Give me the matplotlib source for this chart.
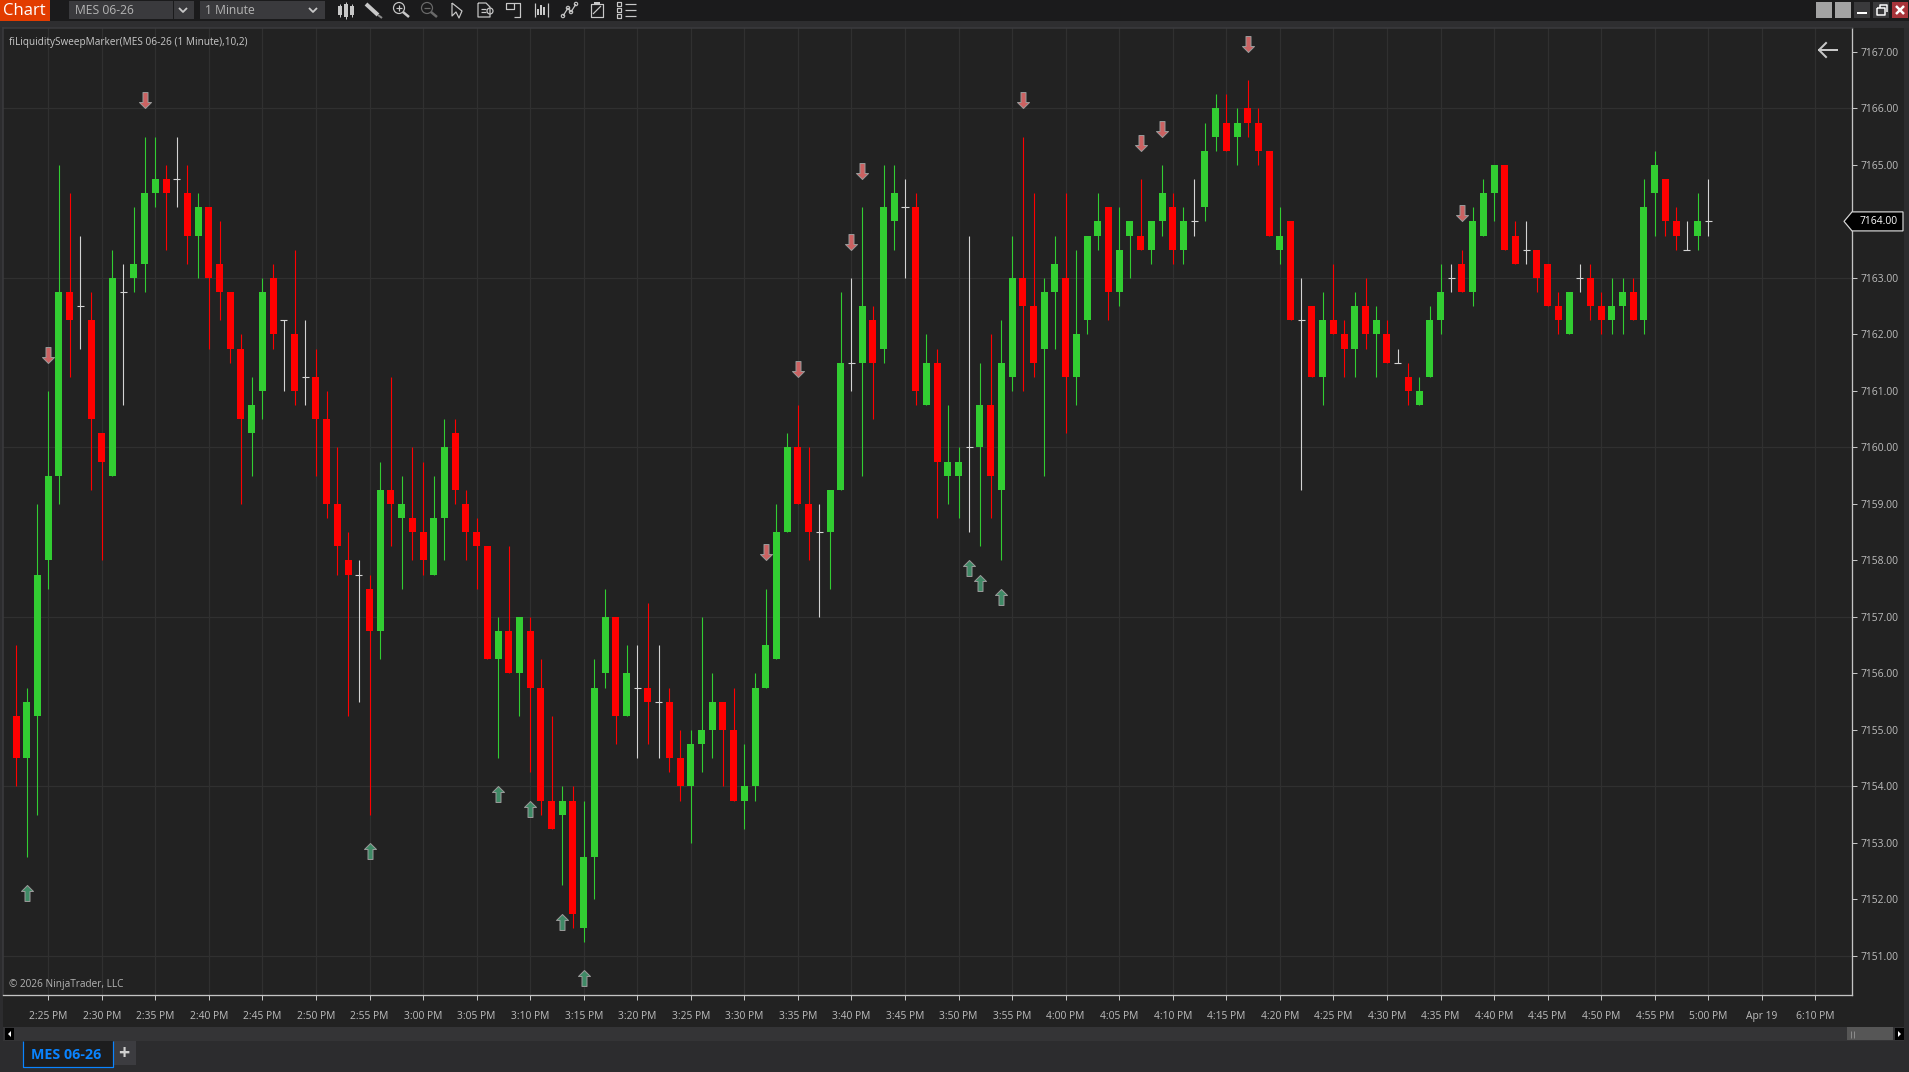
import numpy as np
import matplotlib
matplotlib.use("Agg")
import matplotlib.pyplot as plt
from matplotlib.patches import Rectangle, Polygon, Circle
from matplotlib.path import Path

W, H = 1909, 1072

# bars are one minute apart, x is minutes after 2:25 PM
bar_minutes = np.arange(-3, 156)

opens = [
    7155.25, 7154.5, 7155.25, 7158, 7159.5, 7162.75, 7162.5, 7162.25, 7160.25, 7159.5,
    7162.75, 7163, 7163.25, 7164.5, 7164.75, 7164.75, 7164.5, 7163.75, 7164.25, 7163.25,
    7162.75, 7161.75, 7160.25, 7161, 7163, 7162.25, 7162, 7161.25, 7161.25, 7160.5,
    7159, 7158, 7157.75, 7157.5, 7156.75, 7159.25, 7158.75, 7158.75, 7158.5, 7157.75,
    7158.75, 7160.25, 7159, 7158.5, 7158.25, 7156.25, 7156.75, 7156, 7156.75, 7155.75,
    7153.75, 7153.5, 7153.75, 7151.5, 7152.75, 7156, 7157, 7155.25, 7155.75, 7155.75,
    7155.5, 7155.5, 7154.5, 7154, 7154.75, 7155, 7155.5, 7155, 7153.75, 7154,
    7155.75, 7156.25, 7158.5, 7160, 7159, 7158.5, 7158.5, 7159.25, 7161.5, 7161.5,
    7162.25, 7161.75, 7164, 7164.25, 7164.25, 7160.75, 7161.5, 7159.5, 7159.5, 7160,
    7160, 7160.75, 7159.25, 7161.25, 7163, 7162.5, 7161.75, 7162.75, 7163, 7161.25,
    7162.25, 7163.75, 7164.25, 7162.75, 7163.75, 7163.75, 7163.5, 7164, 7164.25, 7163.5,
    7164, 7164.25, 7165.5, 7165.75, 7165.5, 7166, 7165.75, 7165.25, 7163.5, 7164,
    7162.25, 7162.5, 7161.25, 7162.25, 7162, 7161.75, 7162.5, 7162, 7162, 7161.5,
    7161.25, 7160.75, 7161.25, 7162.25, 7163, 7163.25, 7162.75, 7163.75, 7164.5, 7165,
    7163.75, 7163.5, 7163.5, 7163.25, 7162.5, 7162, 7163, 7163, 7162.5, 7162.25,
    7162.5, 7162.75, 7162.25, 7164.5, 7164.75, 7164, 7163.5, 7163.75, 7164,
]
highs = [
    7156.5, 7155.75, 7159, 7161, 7165, 7164.5, 7163.75, 7162.75, 7160.25, 7163.5,
    7163.25, 7164.25, 7165.5, 7165.5, 7165, 7165.5, 7165, 7164.5, 7164.25, 7164,
    7162.75, 7162, 7161.25, 7163, 7163.25, 7162.25, 7163.5, 7162.25, 7161.75, 7161,
    7160, 7158.5, 7158, 7157.75, 7159.75, 7161.25, 7159.5, 7160, 7159.75, 7159.5,
    7160.5, 7160.5, 7159.25, 7158.75, 7158.25, 7157, 7158.25, 7157, 7157, 7156.25,
    7155.25, 7154, 7154, 7153.75, 7156.25, 7157.5, 7157, 7156.5, 7156.5, 7157.25,
    7156.5, 7155.75, 7155, 7155, 7157, 7156, 7155.5, 7155.75, 7154.75, 7156,
    7157.5, 7159, 7160.25, 7160.75, 7160, 7159, 7159.25, 7162.75, 7163, 7164.25,
    7162.5, 7165, 7165, 7164.75, 7164.5, 7162, 7161.75, 7160.75, 7160, 7163.75,
    7161.5, 7162, 7162.25, 7163.75, 7165.5, 7164.5, 7163, 7163.75, 7164.5, 7163.5,
    7163.75, 7164.5, 7164.25, 7164.25, 7164, 7164.75, 7164, 7165, 7164.5, 7164.25,
    7164.75, 7165.75, 7166.25, 7166.25, 7166, 7166.5, 7166, 7165.25, 7164.25, 7164,
    7163, 7162.5, 7162.75, 7163.25, 7162.25, 7162.75, 7163, 7162.5, 7162.25, 7161.75,
    7161.5, 7161.25, 7162.5, 7163.25, 7163.25, 7163.5, 7164.25, 7164.75, 7165, 7165,
    7164, 7164, 7163.5, 7163.25, 7162.75, 7162.75, 7163.25, 7163.25, 7162.75, 7163,
    7163, 7163, 7164.75, 7165.25, 7164.75, 7164.25, 7164, 7164.5, 7164.75,
]
lows = [
    7154, 7152.75, 7153.5, 7157.5, 7159, 7161.25, 7161.75, 7159.25, 7158, 7159.5,
    7160.75, 7162.75, 7162.75, 7164.25, 7163.5, 7164.25, 7163.25, 7163, 7161.75, 7162.25,
    7161.5, 7159, 7159.5, 7160.5, 7161.75, 7161, 7160.75, 7160.75, 7159.5, 7158.75,
    7157.75, 7155.25, 7155.5, 7153.5, 7156.25, 7158.25, 7157.5, 7158, 7157.75, 7157.75,
    7158, 7159, 7158, 7157.5, 7156.25, 7154.5, 7156, 7155.25, 7154.25, 7153.5,
    7153.25, 7152.25, 7151.5, 7151.25, 7152, 7155.75, 7154.75, 7155.25, 7154.5, 7154.75,
    7154.5, 7154.25, 7153.75, 7153, 7154.25, 7154.5, 7154, 7153.75, 7153.25, 7153.75,
    7155.75, 7156.25, 7158.5, 7159, 7158, 7157, 7157.5, 7159.25, 7161, 7159.5,
    7160.5, 7161.5, 7163.5, 7163, 7160.75, 7160.75, 7158.75, 7159, 7158.75, 7158.5,
    7158.25, 7158.75, 7158, 7161, 7161, 7161.25, 7159.5, 7161.75, 7160.25, 7160.75,
    7162, 7163.5, 7162.25, 7162.5, 7163, 7163.5, 7163.25, 7163.75, 7163.25, 7163.25,
    7163.75, 7164, 7165.25, 7165.25, 7165, 7165.5, 7165, 7163.75, 7163.25, 7162.25,
    7159.25, 7161.25, 7160.75, 7162, 7161.25, 7161.25, 7161.75, 7161.25, 7161.5, 7161.5,
    7160.75, 7160.75, 7161.25, 7162, 7162.75, 7162.75, 7162.5, 7163.75, 7164, 7163.5,
    7163.25, 7163.25, 7162.75, 7162.5, 7162, 7162, 7162.75, 7162.25, 7162, 7162,
    7162, 7162.25, 7162, 7163.75, 7163.75, 7163.5, 7163.5, 7163.5, 7163.75,
]
closes = [
    7154.5, 7155.5, 7157.75, 7159.5, 7162.75, 7162.25, 7162.5, 7160.5, 7159.75, 7163,
    7162.75, 7163.25, 7164.5, 7164.75, 7164.5, 7164.75, 7163.75, 7164.25, 7163, 7162.75,
    7161.75, 7160.5, 7160.75, 7162.75, 7162, 7162.25, 7161, 7161.25, 7160.5, 7159,
    7158.25, 7157.75, 7157.75, 7156.75, 7159.25, 7159, 7159, 7158.5, 7158, 7158.75,
    7160, 7159.25, 7158.5, 7158.25, 7156.25, 7156.75, 7156, 7157, 7155.75, 7153.75,
    7153.25, 7153.75, 7151.75, 7152.75, 7155.75, 7157, 7155.25, 7156, 7155.75, 7155.5,
    7155.5, 7154.5, 7154, 7154.75, 7155, 7155.5, 7155, 7153.75, 7154, 7155.75,
    7156.5, 7158.5, 7160, 7159, 7158.5, 7158.5, 7159.25, 7161.5, 7161.5, 7162.5,
    7161.5, 7164.25, 7164.5, 7164.25, 7161, 7161.5, 7159.75, 7159.75, 7159.75, 7160,
    7160.75, 7159.5, 7161.5, 7163, 7162.5, 7161.5, 7162.75, 7163.25, 7161.25, 7162,
    7163.75, 7164, 7162.75, 7163.5, 7164, 7163.5, 7164, 7164.5, 7163.5, 7164,
    7164, 7165.25, 7166, 7165.25, 7165.75, 7165.75, 7165.25, 7163.75, 7163.75, 7162.25,
    7162.25, 7161.25, 7162.25, 7162, 7161.75, 7162.5, 7162, 7162.25, 7161.5, 7161.5,
    7161, 7161, 7162.25, 7162.75, 7163, 7162.75, 7164, 7164.5, 7165, 7163.5,
    7163.25, 7163.5, 7163, 7162.5, 7162.25, 7162.75, 7163, 7162.5, 7162.25, 7162.5,
    7162.75, 7162.25, 7164.25, 7165, 7164, 7163.75, 7163.5, 7164, 7164,
]

# bars where the indicator printed an arrow
sweep_down_minutes = [0, 9, 67, 70, 75, 76, 91, 102, 104, 112, 132]
sweep_up_minutes = [-2, 30, 42, 45, 48, 50, 86, 87, 89]

time_labels = [
    "2:25 PM", "2:30 PM", "2:35 PM", "2:40 PM", "2:45 PM", "2:50 PM", "2:55 PM", "3:00 PM",
    "3:05 PM", "3:10 PM", "3:15 PM", "3:20 PM", "3:25 PM", "3:30 PM", "3:35 PM", "3:40 PM",
    "3:45 PM", "3:50 PM", "3:55 PM", "4:00 PM", "4:05 PM", "4:10 PM", "4:15 PM", "4:20 PM",
    "4:25 PM", "4:30 PM", "4:35 PM", "4:40 PM", "4:45 PM", "4:50 PM", "4:55 PM", "5:00 PM",
    "Apr 19", "6:10 PM",
]
price_ticks = list(range(7151, 7168))
price_grid = [7151, 7154, 7157, 7160, 7163, 7166]
last_price = 7164.0

BG = "#222222"
CHROME = "#2c2c2e"
TEXT = "#bdbdbd"
GRID = "#303030"
AXIS = "#c4c4c4"
UP = "#32cd32"
DOWN = "#ff0000"
DOJI = "#d3d3d3"
px = 0.72  # one pixel in points at dpi 100
X0 = 48.2  # pixel column of 2:25 PM
X_STEP = 10.71

plt.rcParams["font.family"] = ["Open Sans", "DejaVu Sans"]

fig = plt.figure(figsize=(W / 100, H / 100), dpi=100, facecolor=CHROME)

# window chrome, drawn in pixel coordinates
ui = fig.add_axes([0, 0, 1, 1])
ui.set_xlim(0, W)
ui.set_ylim(H, 0)
ui.axis("off")


def box(x0, y0, x1, y1, color, **kw):
    ui.add_patch(Rectangle((x0, y0), x1 - x0, y1 - y0, facecolor=color, linewidth=0, **kw))


def stroke(xs, ys, color="#c8c8c8", lw=1.2):
    ui.plot(xs, ys, color=color, lw=lw * px, solid_capstyle="butt")


box(0, 0, W, 21, "#1b1b1c")
box(0, 21, W, 28, "#2e2e30")
box(0, 0, 50, 21, "#e23c00")
ui.text(24, 11, "Chart", color="white", fontsize=12, ha="center", va="center")
box(69, 1, 173, 19, "#3a3a3d")
box(174, 1, 194, 19, "#3a3a3d")
box(200, 1, 325, 19, "#3a3a3d")
ui.text(75, 10, "MES 06-26", color="#b4b4b4", fontsize=8.7, va="center")
ui.text(205, 10, "1 Minute", color="#b4b4b4", fontsize=8.7, va="center")
for cx in (183, 313):
    stroke([cx - 4, cx, cx + 4], [8, 12, 8], lw=1.8)

# toolbar icons
for cx, hh in ((340, 9), (346, 13), (352, 9)):
    stroke([cx, cx], [10 - hh / 2 - 2, 10 + hh / 2 + 2], "#c8c8c8", 1)
    box(cx - 2, 10 - hh / 2, cx + 2, 10 + hh / 2, "#c8c8c8")
stroke([366, 378], [4, 15], "#c8c8c8", 4)
stroke([378, 382], [15, 18], "#8a8a8a", 2)
for cx, col in ((401, "#c8c8c8"), (429, "#6a6a6a")):
    ui.add_patch(Circle((cx - 2, 8), 5.5, fill=False, ec=col, lw=1.2 * px))
    stroke([cx - 5, cx + 1], [8, 8], col)
    if cx == 401:
        stroke([cx - 2, cx - 2], [5, 11], col)
    stroke([cx + 2, cx + 8], [12, 17], col, lw=2.5)
stroke([452, 452, 456, 459, 462, 452], [3, 16, 12, 18, 11, 3])
stroke([478, 486, 490, 490, 478, 478], [3, 3, 7, 17, 17, 3])
stroke([481, 486], [9, 9])
stroke([481, 486], [12, 12])
ui.add_patch(Circle((490, 11), 3, fill=False, ec="#c8c8c8", lw=1.2 * px))
stroke([506, 514, 514, 506, 506], [3, 3, 9, 9, 3])
stroke([514, 520, 520, 514], [3, 3, 17, 17])
stroke([535, 535], [3, 17])
stroke([548, 548], [3, 17])
for cx, hh in ((538, 6), (541, 10), (544, 8)):
    box(cx - 1, 15 - hh, cx + 1, 15, "#c8c8c8")
stroke([563, 568, 571, 576], [16, 8, 12, 4])
for cx, cy in ((563, 16), (568, 8), (571, 12), (576, 4)):
    ui.add_patch(Circle((cx, cy), 1.7, fill=False, ec="#c8c8c8", lw=1.1 * px))
stroke([591, 603, 603, 591, 591], [4, 4, 17, 17, 4])
stroke([593, 601], [14, 6])
box(594, 2, 600, 5, "#c8c8c8")
for cy in (4, 10, 16):
    stroke([617, 621, 621, 617, 617], [cy - 2, cy - 2, cy + 2, cy + 2, cy - 2])
    stroke([625, 636], [cy, cy])

# window buttons
box(1816, 2, 1832, 18, "#a3a3a3")
box(1835, 2, 1851, 18, "#a3a3a3")
box(1854, 2, 1870, 18, "#3a3a3c")
box(1873, 2, 1889, 18, "#3a3a3c")
box(1892, 2, 1908, 18, "#a8343a")
stroke([1857, 1867], [13, 13], "white", 2)
stroke([1877, 1877, 1885, 1885, 1877], [8, 15, 15, 8, 8], "white", 1.5)
stroke([1880, 1880, 1887, 1887], [8, 5, 5, 12], "white", 1.5)
stroke([1896, 1904], [6, 14], "white", 2.5)
stroke([1896, 1904], [14, 6], "white", 2.5)

# panel behind the chart, scroll bar and tab strip
box(3, 28, 1904, 1027, BG)
box(3, 1027, 1904, 1041, "#343436")
box(5, 1028, 14, 1040, "black")
ui.add_patch(Polygon([[11, 1031], [8, 1034], [11, 1037]], facecolor="white", linewidth=0))
box(1847, 1027, 1893, 1040, "#565656")
stroke([1851, 1851], [1031, 1038], "#8a8a8a", 1)
stroke([1854, 1854], [1031, 1038], "#8a8a8a", 1)
box(1895, 1028, 1904, 1040, "black")
ui.add_patch(Polygon([[1898, 1031], [1901, 1034], [1898, 1037]], facecolor="white", linewidth=0))
box(23, 1041, 113, 1067, "#1d1d1e")
stroke([23, 23, 113, 113], [1041, 1067, 1067, 1041], "#0a84ff", 1.2)
ui.text(66, 1055, "MES 06-26", color="#0a84ff", fontsize=10.3, fontweight="bold", ha="center", va="center")
box(113, 1041, 136, 1065, "#3c3c40")
ui.text(124, 1054, "+", color="#d0d0d0", fontsize=14, fontweight="bold", ha="center", va="center")

# price panel
ax = fig.add_axes([3 / W, 1 - 995 / H, (1851.7 - 3) / W, (995 - 28) / H])
ax.set_facecolor("none")
ax.set_xlim((3 - X0) / X_STEP, (1851.7 - X0) / X_STEP)
ax.set_ylim(7166 - (995 - 108.4) / 56.5, 7166 + (108.4 - 28) / 56.5)

ax.set_xticks(np.arange(0, 5 * len(time_labels), 5))
ax.set_xticklabels(time_labels)
ax.set_yticks(price_ticks)
ax.set_yticklabels([f"{p:.2f}" for p in price_ticks], va="center_baseline")
ax.yaxis.tick_right()
ax.tick_params(axis="both", colors=AXIS, labelcolor=TEXT, labelsize=7.4, length=3.6, width=px)
ax.tick_params(axis="x", pad=8)
ax.tick_params(axis="y", pad=3)
ax.grid(axis="x", color=GRID, lw=1.2 * px)
ax.set_axisbelow(True)
for p in price_grid:
    ax.axhline(p, color=GRID, lw=1.2 * px, zorder=0.5)

for side in ("right", "bottom"):
    ax.spines[side].set_color(AXIS)
    ax.spines[side].set_linewidth(1.3 * px)
for side in ("left", "top"):
    ax.spines[side].set_color("#3a3a3d")
    ax.spines[side].set_linewidth(1.6 * px)

o = np.array(opens)
h = np.array(highs)
l = np.array(lows)
c = np.array(closes)
bar_colors = np.where(c > o, UP, np.where(c < o, DOWN, DOJI))
is_doji = c == o

ax.vlines(bar_minutes, l, h, colors=bar_colors, lw=1.1 * px, zorder=2)
ax.bar(bar_minutes[~is_doji], np.abs(c - o)[~is_doji], bottom=np.minimum(o, c)[~is_doji],
       width=7 / X_STEP, color=bar_colors[~is_doji], linewidth=0, zorder=3)
ax.hlines(c[is_doji], bar_minutes[is_doji] - 0.33, bar_minutes[is_doji] + 0.33,
          colors=DOJI, lw=1.1 * px, zorder=3)

# arrow markers have their tip at the origin so the tip sits on the price
down_arrow = Path([(0, 0), (6, 6), (2.5, 6), (2.5, 16), (-2.5, 16), (-2.5, 6), (-6, 6), (0, 0)], closed=True)
up_arrow = Path([(0, 0), (-6, -6), (-2.5, -6), (-2.5, -16), (2.5, -16), (2.5, -6), (6, -6), (0, 0)], closed=True)
first = bar_minutes[0]
ax.plot(sweep_down_minutes, [highs[m - first] + 0.5 for m in sweep_down_minutes], ls="none",
        marker=down_arrow, ms=23, mfc="#cc6262", mec="#9a9a9a", mew=px, zorder=4)
ax.plot(sweep_up_minutes, [lows[m - first] - 0.5 for m in sweep_up_minutes], ls="none",
        marker=up_arrow, ms=23, mfc="#3f8a66", mec="#9a9a9a", mew=px, zorder=4)

# overlay text and price flag
top = fig.add_axes([0, 0, 1, 1], facecolor="none")
top.set_xlim(0, W)
top.set_ylim(H, 0)
top.axis("off")
top.text(9, 42.5, "fiLiquiditySweepMarker(MES 06-26 (1 Minute),10,2)", color="#c8c8c8", fontsize=7.2, va="center")
top.text(9, 984, "© 2026 NinjaTrader, LLC", color="#b4b4b4", fontsize=7.2, va="center")
top.plot([1819, 1837], [50, 50], color="#c8c8c8", lw=2 * px)
top.plot([1826, 1819, 1826], [43, 50, 57], color="#c8c8c8", lw=2 * px)

flag_y = 108.4 + (7166 - last_price) * 56.5
top.add_patch(Polygon([[1844, flag_y], [1852, flag_y - 9.5], [1903, flag_y - 9.5], [1903, flag_y + 9.5], [1852, flag_y + 9.5]],
                      facecolor="black", edgecolor="#d8d8d8", linewidth=1.2 * px))
top.text(1860, flag_y + 0.5, f"{last_price:.2f}", color="white", fontsize=7.4, va="center")

fig.savefig("out.png", dpi=100, facecolor=fig.get_facecolor())
